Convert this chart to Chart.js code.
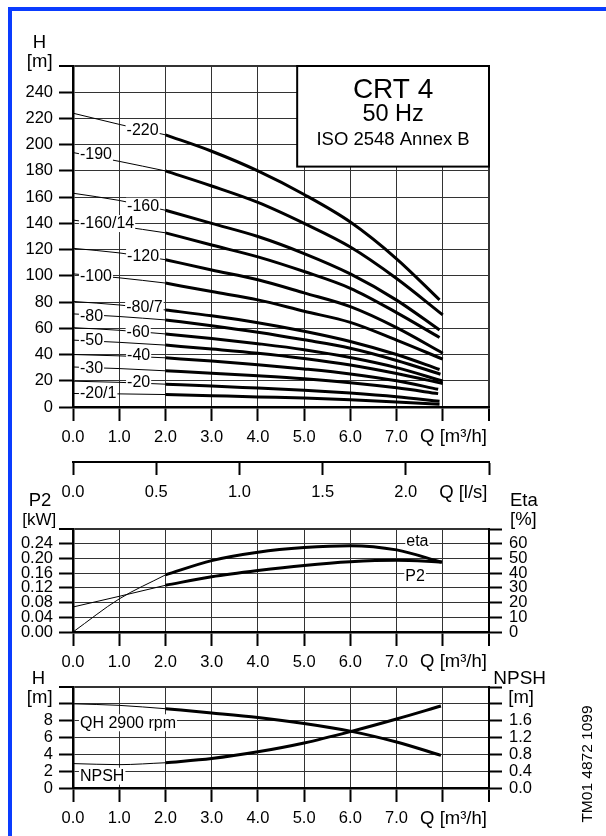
<!DOCTYPE html>
<html lang="en">
<head>
<meta charset="utf-8">
<title>CRT 4 50 Hz pump curves</title>
<script src="https://cdn.jsdelivr.net/npm/chart.js@4.4.1/dist/chart.umd.min.js"></script>
<style>
  html, body { margin: 0; padding: 0; background: #fff; }
  body { position: relative; width: 606px; height: 836px; overflow: hidden; }
  canvas { position: absolute; left: 0; top: 0; }
  #frame { position: absolute; left: 8px; top: 7px; right: -20px; bottom: -20px; border-top: 4px solid #0a3cff; border-left: 4px solid #0a3cff; }
  #docNo { position: absolute; left: 522px; top: 755px; width: 130px; height: 18px; line-height: 18px; text-align: center;
           font: 15.5px "Liberation Sans", Arial, sans-serif; color: #000; transform: rotate(-90deg); }
</style>
</head>
<body>
<div id="frame"></div>
<canvas id="qhChart" width="606" height="836"></canvas>
<canvas id="powerChart" width="606" height="836"></canvas>
<canvas id="npshChart" width="606" height="836"></canvas>
<div id="docNo">TM01 4872 1099</div>
<script>
var FONT = '"Liberation Sans", Arial, Helvetica, sans-serif';
Chart.defaults.font.family = FONT;
Chart.defaults.font.size = 16.5;
Chart.defaults.color = "#000";
Chart.defaults.animation = false;

// flow at every grid line [m3/h]; each curve adds its own last point
var flowSteps = [0, 1, 2, 3, 4, 5, 6, 7];

// QH curves, head [m], top curve first
var head22 = [224, 215.5, 207.5, 195, 180, 162, 141, 113, 81.7];
var head19 = [194, 187.3, 180, 168.5, 156, 140, 122, 98, 70.2];
var head16 = [163, 157.5, 150, 140, 130, 117, 101.5, 81.5, 58.7];
var head14 = [142.5, 138, 132.8, 123.5, 114.5, 103.3, 90.5, 72, 53];
var head12 = [121, 117.5, 112.3, 104.5, 97, 87, 76.5, 60.5, 41];
var head10 = [101.5, 98.5, 94.5, 88, 81.7, 73, 64.5, 51, 36.5];
var head8 = [80.5, 77.8, 74, 69.5, 64.3, 57.8, 50, 40, 28.6];
var head7 = [71, 69, 66.4, 62, 57, 51.2, 44.8, 35.5, 25];
var head6 = [60.5, 58.5, 55.7, 52.3, 48.3, 43.7, 37.7, 30, 19.8];
var head5 = [51, 49.3, 47.2, 44.2, 41, 37, 32, 25.5, 17.9];
var head4 = [40, 39, 37.5, 35, 32.2, 29, 25.2, 20, 13.5];
var head3 = [30.5, 29.3, 27.6, 25.8, 23.8, 21.5, 18.5, 14.6, 10.2];
var head2 = [19.7, 18.8, 17.4, 16, 14.4, 12.8, 10.6, 7.8, 4.4];
var head1 = [10.3, 10, 9.5, 8.6, 7.7, 6.9, 5.6, 3.9, 2.1];
var curveEnds = [7.93, 8.0, 7.93, 7.93, 8.0, 8.0, 7.93, 7.95, 8.0, 8.0, 7.9, 7.9, 7.93, 7.93];

// curve tags as printed on the sheet
var stageLabels = ["-220", "-190", "-160", "-160/14", "-120", "-100", "-80/7", "-80", "-60", "-50", "-40", "-30", "-20", "-20/1"];
var labelFlow = [1.16, 0.15, 1.17, 0.15, 1.17, 0.15, 1.15, 0.15, 1.16, 0.15, 1.17, 0.15, 1.17, 0.15];
var labelHead = [210.4, 192.7, 152.7, 139.5, 114.6, 99.4, 76.0, 68.9, 56.7, 50.6, 39.1, 29.5, 18.8, 9.9];

// power and efficiency
var powerEnd = 7.98;
var p2Power = [0.068, 0.097, 0.127, 0.150, 0.167, 0.181, 0.191, 0.195, 0.190];
var etaPct = [0, 22.5, 38.8, 48.5, 54.2, 57.4, 58.7, 55.8, 47.4];

// one stage QH and NPSH
var npshEnd = 7.96;
var qhStage = [10.0, 9.82, 9.42, 8.92, 8.38, 7.67, 6.76, 5.46, 3.88];
var npshReq = [0.58, 0.555, 0.60, 0.70, 0.86, 1.07, 1.34, 1.64, 1.95];

function curvePair(flows, values, axisId) {
  var pts = flows.map(function (q, i) { return { x: q, y: values[i] }; });
  var base = { borderColor: "#000", pointRadius: 0, fill: false, cubicInterpolationMode: "monotone", yAxisID: axisId };
  return [
    Object.assign({ data: pts.slice(0, 3), borderWidth: 1 }, base),
    Object.assign({ data: pts.slice(2), borderWidth: 3 }, base)
  ];
}

function edgeGrid(maxValue, tickLength, onArea) {
  return {
    color: "#333",
    drawOnChartArea: onArea,
    lineWidth: function (c) { return c.tick && Math.abs(c.tick.value - maxValue) < 1e-6 ? 2 : 1; },
    tickLength: tickLength,
    tickWidth: 2,
    tickColor: "#000"
  };
}

function flowAxis(height) {
  return {
    type: "linear", position: "bottom", min: 0, max: 9,
    grid: edgeGrid(9, 14, true),
    border: { color: "#000", width: 2.5 },
    ticks: { stepSize: 1, padding: 7, autoSkip: false, maxRotation: 0, minRotation: 0,
      callback: function (v) { return v <= 7 ? v.toFixed(1) : ""; } },
    afterFit: function (s) { s.height = height; }
  };
}

function leftAxis(max, step, lastLabel, digits) {
  return {
    type: "linear", position: "left", min: 0, max: max,
    grid: edgeGrid(max, 14, true),
    border: { color: "#000", width: 2.5 },
    ticks: { stepSize: step, padding: 6, autoSkip: false,
      callback: function (v) { return v <= lastLabel + 1e-9 ? v.toFixed(digits) : ""; } },
    afterFit: function (s) { s.width = 73; }
  };
}

function rightAxis(max, step, lastLabel, digits) {
  return {
    type: "linear", position: "right", min: 0, max: max,
    grid: edgeGrid(-1, 13, false),
    border: { color: "#000", width: 2 },
    ticks: { stepSize: step, padding: 7, autoSkip: false,
      callback: function (v) { return v <= lastLabel + 1e-9 ? v.toFixed(digits) : ""; } },
    afterFit: function (s) { s.width = 117; }
  };
}

function drawText(ctx, str, x, y, size, align) {
  ctx.save();
  ctx.font = size + "px " + FONT;
  ctx.fillStyle = "#000";
  ctx.textAlign = align || "center";
  ctx.textBaseline = "middle";
  ctx.fillText(str, x, y);
  ctx.restore();
}

// curve tag on a white patch, left edge at x
function drawTag(ctx, str, x, y) {
  ctx.save();
  ctx.font = "16px " + FONT;
  var w = ctx.measureText(str).width;
  ctx.fillStyle = "#fff";
  ctx.fillRect(x - 1, y - 9, w + 2, 17);
  ctx.restore();
  drawText(ctx, str, x, y, 16, "left");
}

var baseOptions = {
  responsive: false,
  maintainAspectRatio: false,
  devicePixelRatio: 1,
  events: [],
  plugins: { legend: { display: false }, tooltip: { enabled: false } }
};

// ---------- QH chart ----------
var qhSets = [];
[head22, head19, head16, head14, head12, head10, head8, head7, head6, head5, head4, head3, head2, head1]
  .forEach(function (heads, i) {
    qhSets = qhSets.concat(curvePair(flowSteps.concat([curveEnds[i]]), heads, "y"));
  });

var qhText = {
  id: "qhText",
  afterDatasetsDraw: function (chart) {
    var ctx = chart.ctx, x = chart.scales.x, y = chart.scales.y;
    stageLabels.forEach(function (txt, i) {
      drawTag(ctx, txt, x.getPixelForValue(labelFlow[i]), y.getPixelForValue(labelHead[i]));
    });
    var bx1 = x.getPixelForValue(4.85), bx2 = x.getPixelForValue(9);
    var by1 = y.getPixelForValue(260), by2 = y.getPixelForValue(183.3);
    ctx.save();
    ctx.fillStyle = "#fff";
    ctx.fillRect(bx1, by1, bx2 - bx1, by2 - by1);
    ctx.lineWidth = 2;
    ctx.strokeStyle = "#000";
    ctx.strokeRect(bx1, by1, bx2 - bx1, by2 - by1);
    ctx.restore();
    var cx = (bx1 + bx2) / 2;
    drawText(ctx, "CRT 4", cx, by1 + 24, 28);
    drawText(ctx, "50 Hz", cx, by1 + 49, 23.5);
    drawText(ctx, "ISO 2548 Annex B", cx, by1 + 73.5, 18.5);
    drawText(ctx, "H", 39.5, 42.7, 18.5);
    drawText(ctx, "[m]", 39.7, 62, 18.5);
    drawText(ctx, "Q [m\u00b3/h]", 453.5, 437, 18.5);
    drawText(ctx, "Q [l/s]", 463.3, 493, 18.5);
  }
};

new Chart(document.getElementById("qhChart"), {
  type: "line",
  data: { datasets: qhSets },
  options: Object.assign({}, baseOptions, {
    layout: { autoPadding: false, padding: { top: 66, right: 117, bottom: 331, left: 0 } },
    scales: {
      x: flowAxis(55),
      x2: {
        type: "linear", position: "bottom", weight: 1, min: 0, max: 2.5,
        grid: edgeGrid(-1, 13, false),
        border: { color: "#000", width: 2 },
        ticks: { stepSize: 0.5, padding: 8, autoSkip: false, maxRotation: 0,
          callback: function (v) { return v < 2.4 ? v.toFixed(1) : ""; } },
        afterFit: function (s) { s.height = 43; }
      },
      y: leftAxis(260, 20, 240, 0)
    }
  }),
  plugins: [qhText]
});

// ---------- P2 / eta chart ----------
var powerFlows = flowSteps.concat([powerEnd]);
var powerText = {
  id: "powerText",
  afterDatasetsDraw: function (chart) {
    var ctx = chart.ctx, x = chart.scales.x, y = chart.scales.y;
    drawTag(ctx, "eta", x.getPixelForValue(7.21), y.getPixelForValue(0.247));
    drawTag(ctx, "P2", x.getPixelForValue(7.19), y.getPixelForValue(0.151));
    drawText(ctx, "P2", 40, 501, 18.5);
    drawText(ctx, "[kW]", 39.3, 520.5, 17);
    drawText(ctx, "Eta", 510, 501, 18.5, "left");
    drawText(ctx, "[%]", 510, 520, 18.5, "left");
    drawText(ctx, "Q [m\u00b3/h]", 453.5, 662, 18.5);
  }
};

new Chart(document.getElementById("powerChart"), {
  type: "line",
  data: { datasets: curvePair(powerFlows, p2Power, "y").concat(curvePair(powerFlows, etaPct, "y2")) },
  options: Object.assign({}, baseOptions, {
    layout: { autoPadding: false, padding: { top: 529, right: 0, bottom: 156, left: 0 } },
    scales: {
      x: flowAxis(48),
      y: leftAxis(0.28, 0.04, 0.24, 2),
      y2: rightAxis(70, 10, 60, 0)
    }
  }),
  plugins: [powerText]
});

// ---------- stage QH / NPSH chart ----------
var npshFlows = flowSteps.concat([npshEnd]);
var npshText = {
  id: "npshText",
  afterDatasetsDraw: function (chart) {
    var ctx = chart.ctx, x = chart.scales.x, y = chart.scales.y;
    drawTag(ctx, "QH 2900 rpm", x.getPixelForValue(0.15), y.getPixelForValue(7.69));
    drawTag(ctx, "NPSH", x.getPixelForValue(0.15), y.getPixelForValue(1.34));
    drawText(ctx, "H", 38.5, 678.8, 18.5);
    drawText(ctx, "[m]", 39.7, 697.5, 18.5);
    drawText(ctx, "NPSH", 493.3, 678.3, 19, "left");
    drawText(ctx, "[m]", 508.3, 697.5, 18.5, "left");
    drawText(ctx, "Q [m\u00b3/h]", 453.5, 819, 18.5);
  }
};

new Chart(document.getElementById("npshChart"), {
  type: "line",
  data: { datasets: curvePair(npshFlows, qhStage, "y").concat(curvePair(npshFlows, npshReq, "y2")) },
  options: Object.assign({}, baseOptions, {
    layout: { autoPadding: false, padding: { top: 687, right: 0, bottom: 0, left: 0 } },
    scales: {
      x: flowAxis(48),
      y: leftAxis(12, 2, 8, 0),
      y2: rightAxis(2.4, 0.4, 1.6, 1)
    }
  }),
  plugins: [npshText]
});
</script>
</body>
</html>
